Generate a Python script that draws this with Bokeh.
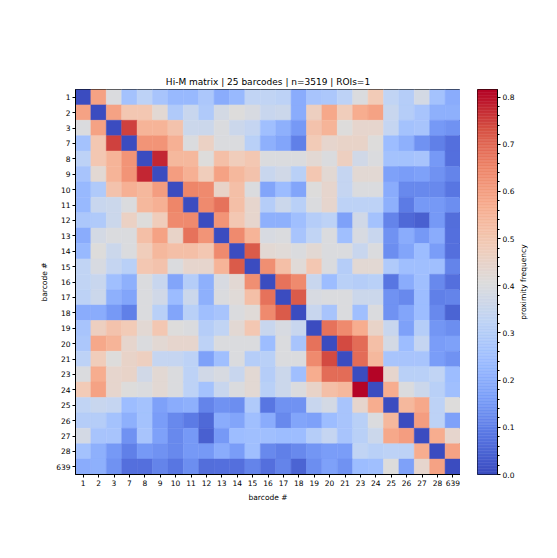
import numpy as np
from math import pi
from bokeh.plotting import figure
from bokeh.layouts import row
from bokeh.models import (ColumnDataSource, LinearColorMapper, FactorRange, Range1d,
                          SingleIntervalTicker, PrintfTickFormatter)
from bokeh.core.properties import value
from bokeh.transform import transform
from bokeh.embed import file_html
from bokeh.resources import INLINE

labels = ["1", "2", "3", "7", "8", "9", "10", "11", "12", "13", "14", "15", "16",
          "17", "18", "19", "20", "21", "23", "24", "25", "26", "27", "28", "639"]

# upper triangle rows (values to the right of the diagonal)
r_1 = [0.59, 0.40, 0.26, 0.32, 0.27, 0.23, 0.23, 0.28, 0.20, 0.23, 0.33, 0.33, 0.32, 0.20,
       0.27, 0.28, 0.32, 0.40, 0.49, 0.33, 0.30, 0.38, 0.26, 0.20]
r_2 = [0.59, 0.50, 0.50, 0.43, 0.29, 0.35, 0.29, 0.38, 0.41, 0.39, 0.35, 0.36, 0.20, 0.47,
       0.58, 0.48, 0.57, 0.59, 0.35, 0.30, 0.27, 0.21, 0.21]
r_3 = [0.75, 0.55, 0.55, 0.51, 0.36, 0.36, 0.40, 0.36, 0.34, 0.25, 0.21, 0.15, 0.51, 0.55,
       0.41, 0.44, 0.44, 0.34, 0.26, 0.27, 0.15, 0.14]
r_7 = [0.62, 0.62, 0.56, 0.40, 0.46, 0.40, 0.40, 0.31, 0.21, 0.18, 0.10, 0.49, 0.44, 0.45,
       0.45, 0.41, 0.245, 0.21, 0.14, 0.10, 0.07]
r_8 = [0.78, 0.54, 0.54, 0.41, 0.52, 0.48, 0.50, 0.40, 0.40, 0.40, 0.43, 0.40, 0.47, 0.37,
       0.40, 0.26, 0.26, 0.27, 0.15, 0.07]
r_9 = [0.60, 0.56, 0.48, 0.59, 0.54, 0.51, 0.35, 0.37, 0.31, 0.50, 0.43, 0.34, 0.43, 0.43,
       0.17, 0.16, 0.17, 0.14, 0.11]
r_10 = [0.65, 0.64, 0.45, 0.52, 0.40, 0.18, 0.24, 0.18, 0.41, 0.44, 0.34, 0.40, 0.40, 0.20,
        0.12, 0.12, 0.12, 0.08]
r_11 = [0.64, 0.68, 0.52, 0.44, 0.30, 0.36, 0.31, 0.40, 0.44, 0.32, 0.32, 0.32, 0.21, 0.09,
        0.15, 0.15, 0.13]
r_12 = [0.62, 0.50, 0.44, 0.21, 0.21, 0.25, 0.30, 0.32, 0.17, 0.37, 0.26, 0.11, 0.055, 0.04,
        0.15, 0.065]
r_13 = [0.64, 0.55, 0.39, 0.40, 0.27, 0.33, 0.40, 0.25, 0.39, 0.35, 0.14, 0.20, 0.15, 0.20, 0.07]
r_14 = [0.72, 0.43, 0.42, 0.40, 0.43, 0.40, 0.40, 0.35, 0.40, 0.13, 0.18, 0.245, 0.16, 0.07]
r_15 = [0.63, 0.52, 0.42, 0.50, 0.40, 0.30, 0.43, 0.43, 0.29, 0.25, 0.25, 0.25, 0.11]
r_16 = [0.68, 0.64, 0.35, 0.245, 0.31, 0.30, 0.31, 0.08, 0.20, 0.25, 0.12, 0.07]
r_17 = [0.72, 0.39, 0.40, 0.40, 0.36, 0.36, 0.14, 0.12, 0.245, 0.10, 0.11]
r_18 = [0.35, 0.27, 0.40, 0.25, 0.40, 0.14, 0.18, 0.245, 0.12, 0.045]
r_19 = [0.68, 0.64, 0.57, 0.45, 0.35, 0.17, 0.30, 0.145, 0.13]
r_20 = [0.74, 0.69, 0.52, 0.38, 0.245, 0.34, 0.16, 0.17]
r_21 = [0.69, 0.54, 0.27, 0.27, 0.27, 0.16, 0.14]
r_23 = [0.816, 0.44, 0.31, 0.31, 0.33, 0.245]
r_24 = [0.57, 0.40, 0.36, 0.31, 0.25]
r_25 = [0.54, 0.58, 0.32, 0.41]
r_26 = [0.60, 0.32, 0.17]
r_27 = [0.57, 0.44]
r_28 = [0.59]

upper_rows = [r_1, r_2, r_3, r_7, r_8, r_9, r_10, r_11, r_12, r_13, r_14, r_15, r_16,
              r_17, r_18, r_19, r_20, r_21, r_23, r_24, r_25, r_26, r_27, r_28]

cb_label = "proximity frequency"
title_text = "Hi-M matrix | 25 barcodes | n=3519 | ROIs=1"

n = len(labels)
M = np.zeros((n, n))
for i, r in enumerate(upper_rows):
    for k, v in enumerate(r):
        j = i + 1 + k
        M[i, j] = v
        M[j, i] = v
vmax = float(M.max())

# coolwarm anchors
anchors = ["#3b4cc0", "#5977e3", "#7b9ff9", "#9ebeff", "#c0d4f5", "#dddcdc",
           "#f2cbb7", "#f7ac8e", "#ee8468", "#d65244", "#b40426"]
A = np.array([[int(h[k:k + 2], 16) for k in (1, 3, 5)] for h in anchors], dtype=float)
palette = []
for t in np.linspace(0, 1, 256):
    pos = t * 10
    i = min(int(pos), 9)
    f = pos - i
    c = (1 - f) * A[i] + f * A[i + 1]
    palette.append("#%02x%02x%02x" % tuple(int(round(x)) for x in c))

mapper = LinearColorMapper(palette=palette, low=0.0, high=vmax)

xs, ys, vs = [], [], []
for i in range(n):
    for j in range(n):
        xs.append(labels[j])
        ys.append(labels[i])
        vs.append(M[i, j])
src = ColumnDataSource(dict(x=xs, y=ys, v=vs))

FONT = "DejaVu Sans"
TOP, BOT = 89, 50

p = figure(x_range=FactorRange(*labels), y_range=FactorRange(*labels[::-1]),
           frame_width=385, frame_height=385,
           min_border_left=75, min_border_top=TOP, min_border_right=0, min_border_bottom=BOT,
           output_backend="svg", toolbar_location=None, title=title_text)
p.title.align = "center"
p.title.text_font = FONT
p.title.text_font_style = "normal"
p.title.text_font_size = "9px"
p.title.text_color = "black"
p.title.standoff = 5

p.rect(x="x", y="y", width=1, height=1, source=src,
       fill_color=transform("v", mapper), line_color=transform("v", mapper), line_width=0.5)

p.grid.visible = False
p.outline_line_color = "black"
p.outline_line_width = 1
for ax in (p.xaxis, p.yaxis):
    ax.axis_line_color = "black"
    ax.major_tick_line_color = "black"
    ax.major_tick_out = 3
    ax.major_tick_in = 0
    ax.minor_tick_line_color = None
    ax.major_label_text_font = FONT
    ax.major_label_text_font_size = "7.5px"
    ax.major_label_text_color = "black"
    ax.major_label_standoff = 2
    ax.axis_label = "barcode #"
    ax.axis_label_text_font = FONT
    ax.axis_label_text_font_size = "7.5px"
    ax.axis_label_text_font_style = "normal"
    ax.axis_label_text_color = "black"
    ax.axis_label_standoff = 4

# colour bar as its own small figure
nb = len(palette)
cb_src = ColumnDataSource(dict(
    bottom=[vmax * k / nb for k in range(nb)],
    top=[vmax * (k + 1) / nb for k in range(nb)],
    color=palette))
p_cb = figure(x_range=Range1d(0, 1), y_range=Range1d(0, vmax),
              frame_width=20, frame_height=385,
              min_border_left=17, min_border_right=17, min_border_top=TOP, min_border_bottom=BOT,
              x_axis_location=None, y_axis_location="right",
              output_backend="svg", toolbar_location=None)
p_cb.quad(left=0, right=1, bottom="bottom", top="top", source=cb_src,
          fill_color="color", line_color="color", line_width=0.5)
p_cb.grid.visible = False
p_cb.outline_line_color = "black"
p_cb.outline_line_width = 1
ya = p_cb.yaxis[0]
ya.ticker = SingleIntervalTicker(interval=0.1, num_minor_ticks=5)
ya.formatter = PrintfTickFormatter(format="%.1f")
ya.axis_line_color = "black"
ya.major_tick_line_color = "black"
ya.major_tick_out = 3
ya.major_tick_in = 0
ya.minor_tick_line_color = "black"
ya.minor_tick_out = 2
ya.minor_tick_in = 0
ya.major_label_text_font = FONT
ya.major_label_text_font_size = "7.5px"
ya.major_label_text_color = "black"
ya.major_label_standoff = 2

# colour bar label
p_lab = figure(x_range=Range1d(0, 1), y_range=Range1d(0, 1),
               frame_width=12, frame_height=385,
               min_border_left=0, min_border_right=0, min_border_top=TOP, min_border_bottom=BOT,
               x_axis_location=None, y_axis_location=None,
               output_backend="svg", toolbar_location=None)
p_lab.outline_line_color = None
p_lab.grid.visible = False
p_lab.text(x=[0.5], y=[0.5], text=[cb_label], angle=pi / 2,
           text_align="center", text_baseline="middle",
           text_font=value(FONT), text_font_size=value("7.5px"), text_color="black")

layout = row(p, p_cb, p_lab)
open("out.html", "w").write(file_html(layout, INLINE))
